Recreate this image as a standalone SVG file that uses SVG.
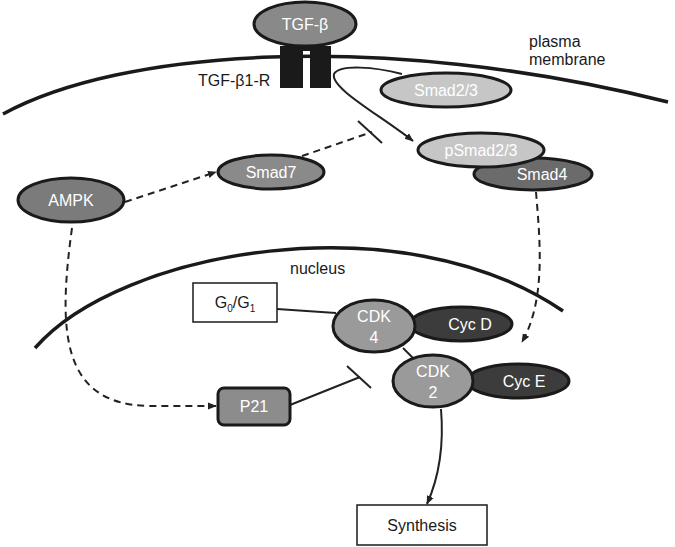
<svg xmlns="http://www.w3.org/2000/svg" width="675" height="547" viewBox="0 0 675 547">
<defs>
<style>
.lbl{font-family:"Liberation Sans",Arial,sans-serif;font-size:16px;fill:#1a1a1a}
.wt{font-family:"Liberation Sans",Arial,sans-serif;font-size:16px;fill:#ffffff;text-anchor:middle}
.bt{font-family:"Liberation Sans",Arial,sans-serif;font-size:16px;fill:#1a1a1a;text-anchor:middle}
.sub{font-size:10px;fill:#1a1a1a}
.node{stroke:#1a1a1a;stroke-width:3}
.mem{fill:none;stroke:#1a1a1a;stroke-width:3.5}
.solid{fill:none;stroke:#222;stroke-width:2}
.dash{fill:none;stroke:#222;stroke-width:2;stroke-dasharray:7 5}
</style>
<marker id="arr" viewBox="0 0 10 10" refX="9" refY="5" markerWidth="9" markerHeight="9" orient="auto" markerUnits="userSpaceOnUse">
<path d="M0,1 L10,5 L0,9 z" fill="#222"/>
</marker>
</defs>
<rect width="675" height="547" fill="#ffffff"/>

<g id="membranes">
<path class="mem" d="M3,114 C120,50 380,30 668,102"/>
<path class="mem" d="M35,348 C120,250 400,200 563,311"/>
<text class="lbl" x="529" y="47">plasma</text>
<text class="lbl" x="529" y="65">membrane</text>
<text class="lbl" x="290" y="274">nucleus</text>
</g>

<g id="connectors">
<path class="solid" d="M402,74 C375,67 340,64 334,74 C330,88 380,115 413,141" marker-end="url(#arr)"/>
<path class="dash" d="M125,202 L216,172" marker-end="url(#arr)"/>
<path class="dash" d="M302,156 L372,132"/>
<path d="M358,121 L382,143" stroke="#222" stroke-width="2" fill="none"/>
<path class="dash" d="M536,192 C540,240 546,300 522,342" marker-end="url(#arr)"/>
<path class="dash" d="M72,228 C58,330 60,405 150,406 L216,406" marker-end="url(#arr)"/>
<path class="solid" d="M277,309 L336,313"/>
<path class="solid" d="M403,348 L413,358"/>
<path class="solid" d="M290,405 L360,377"/>
<path d="M347,366 L371,388" stroke="#222" stroke-width="2" fill="none"/>
<path class="solid" d="M441,409 C444,445 440,475 427,504" marker-end="url(#arr)"/>
</g>

<g id="receptor">
<rect x="280" y="46" width="51" height="5" fill="#1a1a1a"/>
<rect x="280" y="46" width="23" height="42" fill="#1a1a1a"/>
<rect x="310" y="46" width="21" height="42" fill="#1a1a1a"/>
<text class="lbl" x="198" y="86">TGF-β1-R</text>
</g>

<g id="tgfb">
<ellipse class="node" cx="305" cy="24" rx="51" ry="22" fill="#898989"/>
<text class="wt" x="305" y="30">TGF-β</text>
</g>

<g id="smad23">
<ellipse class="node" cx="446" cy="90" rx="65" ry="17" fill="#c6c6c6"/>
<text class="wt" x="446" y="96">Smad2/3</text>
</g>

<g id="smad4">
<ellipse class="node" cx="533" cy="174" rx="59" ry="16" fill="#6b6b6b"/>
<text class="wt" x="542" y="180">Smad4</text>
</g>

<g id="psmad23">
<ellipse class="node" cx="481" cy="150" rx="63" ry="17" fill="#c6c6c6"/>
<text class="wt" x="481" y="156">pSmad2/3</text>
</g>

<g id="ampk">
<ellipse class="node" cx="71" cy="200" rx="53" ry="22" fill="#7b7b7b"/>
<text class="wt" x="71" y="206">AMPK</text>
</g>

<g id="smad7">
<ellipse class="node" cx="271" cy="172" rx="53" ry="17" fill="#8a8a8a"/>
<text class="wt" x="271" y="178">Smad7</text>
</g>

<g id="g0g1">
<rect x="193" y="283" width="84" height="39" fill="#ffffff" stroke="#1a1a1a" stroke-width="1.5"/>
<text class="bt" x="235" y="308">G<tspan class="sub" dy="4">0</tspan><tspan dy="-4">/G</tspan><tspan class="sub" dy="4">1</tspan></text>
</g>

<g id="cycd">
<ellipse class="node" cx="461" cy="324" rx="51" ry="17" fill="#3c3c3c"/>
<text class="wt" x="470" y="330">Cyc D</text>
</g>

<g id="cdk4">
<ellipse class="node" cx="374" cy="326" rx="41" ry="26" fill="#9a9a9a"/>
<text class="wt" x="374" y="322">CDK</text>
<text class="wt" x="374" y="343">4</text>
</g>

<g id="cyce">
<ellipse class="node" cx="518" cy="381" rx="51" ry="17" fill="#3c3c3c"/>
<text class="wt" x="524" y="387">Cyc E</text>
</g>

<g id="cdk2">
<ellipse class="node" cx="433" cy="381" rx="40" ry="26" fill="#9a9a9a"/>
<text class="wt" x="433" y="377">CDK</text>
<text class="wt" x="433" y="398">2</text>
</g>

<g id="p21">
<rect class="node" x="218" y="388" width="72" height="37" rx="6" fill="#8c8c8c"/>
<text class="wt" x="254" y="412">P21</text>
</g>

<g id="synthesis">
<rect x="357" y="505" width="130" height="40" fill="#ffffff" stroke="#1a1a1a" stroke-width="1.5"/>
<text class="bt" x="422" y="531">Synthesis</text>
</g>
</svg>
